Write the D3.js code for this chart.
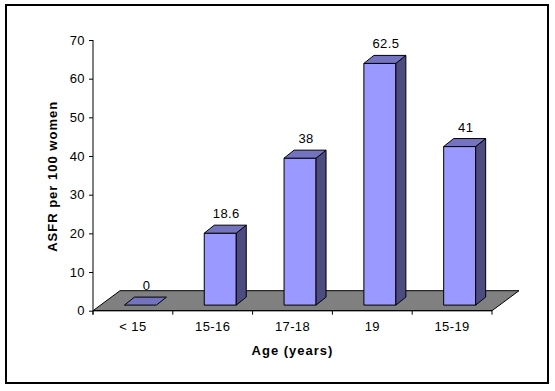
<!DOCTYPE html>
<html>
<head>
<meta charset="utf-8">
<script src="https://cdn.jsdelivr.net/npm/d3@7"></script>
<style>
  body { margin: 0; background: #fff; }
  svg text { font-family: "Liberation Sans", Arial, sans-serif; fill: #000; }
  .tick text, .val { font-size: 13px; letter-spacing: 0.4px; }
  .title { font-size: 13px; font-weight: bold; letter-spacing: 1px; }
</style>
</head>
<body>
<svg id="chart"></svg>
<script>
const categories = ['< 15', '15-16', '17-18', '19', '15-19'];
const values     = [0, 18.6, 38, 62.5, 41];
const yTicks     = [0, 10, 20, 30, 40, 50, 60, 70];

const SVG_W = 555;
const SVG_H = 391;

// plot frame (front plane)
const X0 = 93, X1 = 492;
const Y0 = 310.7, Y1 = 40;

// oblique depth of the floor and of each bar
const FLOOR_DX = 27, FLOOR_DY = 20;
const BAR_FRONT = 0.28;          // fraction of floor depth where bar front sits
const BAR_DX = 10, BAR_DY = 8;
const BAR_W  = 32;

const COL_FRONT = '#9999FF';
const COL_TOP   = '#7373BF';
const COL_SIDE  = '#4C4C80';
const COL_FLOOR = '#808080';

const xScale = d3.scaleBand().domain(categories).range([X0, X1]);
const yScale = d3.scaleLinear().domain([0, 70]).range([Y0, Y1]);

const svg = d3.select('#chart')
  .attr('width', SVG_W)
  .attr('height', SVG_H);

// outer border
svg.append('rect')
  .attr('x', 6).attr('y', 5)
  .attr('width', 542).attr('height', 378)
  .attr('fill', 'none')
  .attr('stroke', '#000')
  .attr('stroke-width', 2);

// floor
const fdx = FLOOR_DX, fdy = FLOOR_DY;
svg.append('path')
  .attr('d', `M ${X0} ${Y0} L ${X1} ${Y0} L ${X1 + fdx} ${Y0 - fdy} L ${X0 + fdx} ${Y0 - fdy} Z`)
  .attr('fill', COL_FLOOR)
  .attr('stroke', '#000')
  .attr('stroke-width', 1);

// bars
const offX = FLOOR_DX * BAR_FRONT;
const offY = FLOOR_DY * BAR_FRONT;

const bars = svg.append('g').selectAll('g.bar')
  .data(categories.map((c, i) => ({ cat: c, value: values[i] })))
  .join('g')
  .attr('class', 'bar');

bars.each(function (d) {
  const g  = d3.select(this);
  const xl = xScale(d.cat) + (xScale.bandwidth() - BAR_W) / 2 + offX;
  const xr = xl + BAR_W;
  const yb = yScale(0) - offY;
  const yt = yScale(d.value) - offY;

  if (yb - yt > 0.5) {
    g.append('path')
      .attr('d', `M ${xl} ${yb} L ${xr} ${yb} L ${xr} ${yt} L ${xl} ${yt} Z`)
      .attr('fill', COL_FRONT).attr('stroke', '#000').attr('stroke-width', 1);
    g.append('path')
      .attr('d', `M ${xr} ${yb} L ${xr + BAR_DX} ${yb - BAR_DY} L ${xr + BAR_DX} ${yt - BAR_DY} L ${xr} ${yt} Z`)
      .attr('fill', COL_SIDE).attr('stroke', '#000').attr('stroke-width', 1);
  }
  g.append('path')
    .attr('d', `M ${xl} ${yt} L ${xr} ${yt} L ${xr + BAR_DX} ${yt - BAR_DY} L ${xl + BAR_DX} ${yt - BAR_DY} Z`)
    .attr('fill', COL_TOP).attr('stroke', '#000').attr('stroke-width', 1);

  g.append('text')
    .attr('class', 'val')
    .attr('x', xl + BAR_W / 2 + 6)
    .attr('y', yt - BAR_DY - 7)
    .attr('text-anchor', 'middle')
    .text(d.value);
});

// y axis
const yAxis = svg.append('g')
  .attr('transform', `translate(${X0},0)`)
  .call(d3.axisLeft(yScale).tickValues(yTicks).tickSize(4).tickPadding(4).tickSizeOuter(0));
yAxis.select('.domain').attr('d', `M 0 ${Y1} V ${Y0 + 4}`);

// x axis: labels centred in bands, ticks at band boundaries
const xAxis = svg.append('g')
  .attr('transform', `translate(0,${Y0})`)
  .call(d3.axisBottom(xScale).tickSize(0).tickPadding(11).tickSizeOuter(0));
xAxis.select('.domain').attr('d', `M ${X0} 0 H ${X1}`);

const bounds = categories.map(c => xScale(c)).concat([X1]);
xAxis.selectAll('line.bound')
  .data(bounds)
  .join('line')
  .attr('class', 'bound')
  .attr('x1', d => d).attr('x2', d => d)
  .attr('y1', 0).attr('y2', 4)
  .attr('stroke', '#000');

svg.selectAll('.domain, .tick line').attr('stroke', '#000');

// titles
svg.append('text')
  .attr('class', 'title')
  .attr('x', (X0 + X1) / 2)
  .attr('y', 355)
  .attr('text-anchor', 'middle')
  .text('Age (years)');

svg.append('text')
  .attr('class', 'title')
  .attr('transform', `translate(57,${(Y0 + Y1) / 2 + 1}) rotate(-90)`)
  .attr('text-anchor', 'middle')
  .text('ASFR per 100 women');
</script>
</body>
</html>
